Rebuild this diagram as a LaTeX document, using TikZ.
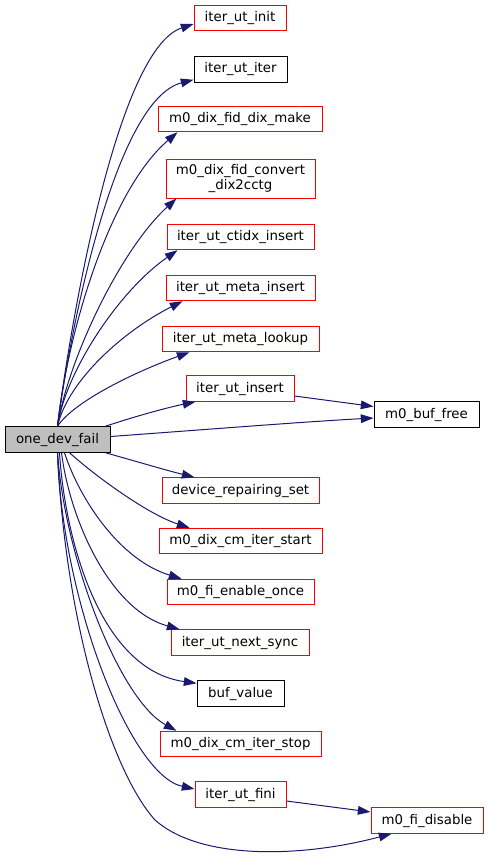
\documentclass[tikz,border=0pt]{standalone}
\usepackage{fontspec}
\setmainfont{DejaVu Sans}
\usetikzlibrary{arrows.meta,calc}
\definecolor{edgeblue}{HTML}{191970}
\definecolor{rootgray}{HTML}{BFBFBF}
\begin{document}
\begin{tikzpicture}[x=0.75pt,y=-0.75pt,
  fn/.style={draw=red,fill=white,line width=0.75pt,inner sep=0pt,minimum height=25.5*0.75pt,font=\fontsize{10}{10.7}\selectfont,align=center},
  fnb/.style={fn,draw=black},
  root/.style={fn,draw=black,fill=rootgray},
  edge/.style={draw=edgeblue,line width=0.75pt,-{Triangle[length=9.5pt,width=6.5pt]},fill=none}]
\useasboundingbox (0,0) rectangle (488,858);
\node[root,minimum width=105*0.75pt] (src) at (57.5,439.5) {one\_dev\_fail};
\node[fn,minimum width=92*0.75pt] (init) at (240,18) {iter\_ut\_init};
\node[fnb,minimum width=93*0.75pt] (iter) at (240.5,69.5) {iter\_ut\_iter};
\node[fn,minimum width=164*0.75pt] (dixmake) at (240,119) {m0\_dix\_fid\_dix\_make};
\node[fn,minimum width=149*0.75pt,minimum height=39*0.75pt] (convert) at (240.5,178.5) {m0\_dix\_fid\_convert\\\_dix2cctg};
\node[fn,minimum width=147*0.75pt] (ctidx) at (240.5,237) {iter\_ut\_ctidx\_insert};
\node[fn,minimum width=149*0.75pt] (metains) at (240.5,288) {iter\_ut\_meta\_insert};
\node[fn,minimum width=157*0.75pt] (metalook) at (240.5,339) {iter\_ut\_meta\_lookup};
\node[fn,minimum width=108*0.75pt] (insert) at (240,388.5) {iter\_ut\_insert};
\node[fnb,minimum width=105*0.75pt] (buffree) at (426.5,414.5) {m0\_buf\_free};
\node[fn,minimum width=157*0.75pt] (devrep) at (240.5,490.5) {device\_repairing\_set};
\node[fn,minimum width=163*0.75pt] (itstart) at (240.5,541) {m0\_dix\_cm\_iter\_start};
\node[fn,minimum width=147*0.75pt] (enonce) at (240.5,592) {m0\_fi\_enable\_once};
\node[fn,minimum width=138*0.75pt] (nsync) at (240,642.5) {iter\_ut\_next\_sync};
\node[fnb,minimum width=87*0.75pt] (bufval) at (240.5,693.5) {buf\_value};
\node[fn,minimum width=161*0.75pt] (itstop) at (240.5,744) {m0\_dix\_cm\_iter\_stop};
\node[fn,minimum width=91*0.75pt] (fini) at (240.5,794.5) {iter\_ut\_fini};
\node[fn,minimum width=112*0.75pt] (disable) at (427,820.5) {m0\_fi\_disable};
% upper edges
\draw[edge] (src.north) .. controls (68,340) and (115,50) .. ($(init.west)+(0,6)$);
\draw[edge] (src.north) .. controls (70,330) and (115,100) .. ($(iter.south west)+(0,-3)$);
\draw[edge] (src.north) .. controls (68,330) and (110,190) .. ($(dixmake.south west)+(20,0)$);
\draw[edge] (src.north) .. controls (68,360) and (120,250) .. ($(convert.south west)+(11,0)$);
\draw[edge] (src.north) .. controls (66,370) and (120,290) .. ($(ctidx.south west)+(11,0)$);
\draw[edge] (src.north) .. controls (68,380) and (125,330) .. ($(metains.south west)+(17,0)$);
\draw[edge] (src.north) .. controls (75,400) and (140,370) .. ($(metalook.south west)+(28,0)$);
\draw[edge] ($(src.north east)+(-5,0)$) .. controls (130,418) and (165,408) .. ($(insert.south west)+(10,0)$);
\draw[edge] ($(insert.east)+(0,7.5)$) -- ($(buffree.west)+(0,-8)$);
\draw[edge] ($(src.east)+(0,-3)$) .. controls (200,430) and (300,422) .. ($(buffree.west)+(0,3.5)$);
% lower edges
\draw[edge] ($(src.south east)+(-5,0)$) .. controls (135,461) and (165,470) .. ($(devrep.north west)+(33,0)$);
\draw[edge] ($(src.south)+(12,0)$) .. controls (100,480) and (150,515) .. ($(itstart.north west)+(31,0)$);
\draw[edge] ($(src.south)+(7,0)$) .. controls (80,500) and (120,560) .. ($(enonce.north west)+(15,0)$);
\draw[edge] ($(src.south)+(4,0)$) .. controls (70,520) and (110,610) .. ($(nsync.north west)+(9,0)$);
\draw[edge] ($(src.south)+(2,0)$) .. controls (65,540) and (100,670) .. ($(bufval.north west)+(0,3)$);
\draw[edge] (src.south) .. controls (65,560) and (120,700) .. ($(itstop.north west)+(17,0)$);
\draw[edge] (src.south) .. controls (62,600) and (130,775) .. ($(fini.west)+(0,-5.5)$);
\draw[edge] ($(fini.east)+(0,6.5)$) -- ($(disable.west)+(0,-8.5)$);
\draw[edge] (src.south) .. controls (65,620) and (110,770) .. (155,820) .. controls (200,860) and (300,858) .. ($(disable.south west)+(21,0)$);
\end{tikzpicture}
\end{document}
